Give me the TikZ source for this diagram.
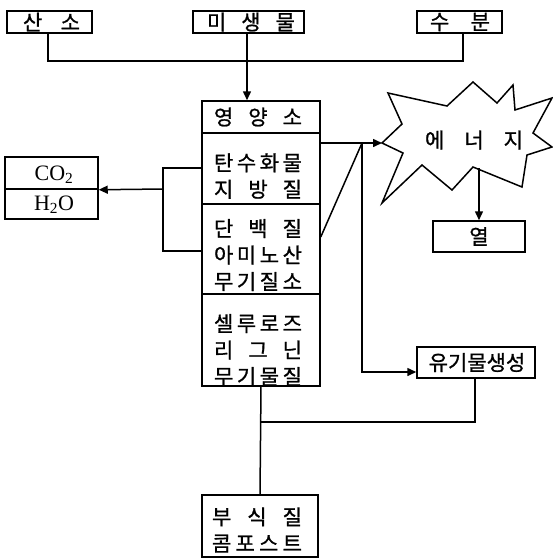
\documentclass[tikz,border=0pt]{standalone}
\usepackage{fontspec}
\newfontfamily\kr[FakeBold=1.0]{Noto Sans CJK KR}
\setmainfont{Liberation Serif}
\usetikzlibrary{arrows.meta}
\newcommand{\spr}[2]{\makebox[#1pt][s]{#2}}
\begin{document}
\begin{tikzpicture}[x=1pt,y=-1pt,line width=1.5pt,
  box/.style={draw, inner sep=0pt, line width=1.5pt},
  txt/.style={inner sep=0pt, font=\kr\fontsize{21}{26.5}\selectfont, align=center},
  chem/.style={inner sep=0pt, font=\fontsize{22}{24}\selectfont},
  arr/.style={-{Triangle[length=9pt,width=8pt]}}]
\useasboundingbox (0,0) rectangle (553,558);

% top boxes
\node[box, minimum width=85pt, minimum height=22pt] (s) at (49.5,22) {};
\node[txt] (st) at (51.5,22) {\spr{57}{산\hfill 소}};
\node[box, minimum width=111pt, minimum height=22pt] (m) at (248.5,22) {};
\node[txt] (mt) at (251,22) {\spr{88}{미\hfill 생\hfill 물}};
\node[box, minimum width=85pt, minimum height=22pt] (w) at (459.5,22) {};
\node[txt] (wt) at (460,22) {\spr{60}{수\hfill 분}};

% nutrient column
\node[box, minimum width=118pt, minimum height=32pt] (n0) at (261,117) {};
\node[box, minimum width=118pt, minimum height=71pt] (n1) at (261,168.5) {};
\node[box, minimum width=118pt, minimum height=90pt] (n2) at (261,249) {};
\node[box, minimum width=118pt, minimum height=92pt] (n3) at (261,340) {};
\node[txt] (t0) at (258,117) {\spr{88}{영\hfill 양\hfill 소}};
\node[txt] (t1) at (258,176) {\spr{88}{탄\hfill 수\hfill 화\hfill 물}\\\spr{88}{지\hfill 방\hfill 질}};
\node[txt] (t2) at (258,255) {\spr{88}{단\hfill 백\hfill 질}\\\spr{88}{아\hfill 미\hfill 노\hfill 산}\\\spr{88}{무\hfill 기\hfill 질\hfill 소}};
\node[txt] (t3) at (258,350) {\spr{88}{셀\hfill 루\hfill 로\hfill 즈}\\\spr{88}{리\hfill 그\hfill 닌}\\\spr{88}{무\hfill 기\hfill 물\hfill 질}};

% CO2 / H2O
\node[box, minimum width=93pt, minimum height=32pt] (co) at (51.5,173) {};
\node[box, minimum width=93pt, minimum height=30pt] (ho) at (51.5,204) {};
\node[chem] (cot) at (54,175) {CO\textsubscript{2}};
\node[chem] (hot) at (54,205) {H\textsubscript{2}O};

% energy starburst
\draw (382,143) -- (402,124) -- (388,93) -- (447,106) -- (473,82) -- (497,103)
  -- (513,85) -- (515,110) -- (552,98) -- (533,133) -- (552,147) -- (527,155)
  -- (522,187) -- (473,167) -- (452,190) -- (422,165) -- (382,203) -- (403,153) -- cycle;
\coordinate (et) at (382,143);
\coordinate (eb) at (479,168);
\node[txt] (en) at (474,140) {\spr{98}{에\hfill 너\hfill 지}};

% heat, organic, compost
\node[box, minimum width=92pt, minimum height=31pt] (heat) at (479,236.5) {};
\node[txt] (heatt) at (479,236.5) {열};
\node[box, minimum width=118pt, minimum height=31pt] (org) at (476,362.5) {};
\node[txt] (orgt) at (477,362.5) {유기물생성};
\node[box, minimum width=116pt, minimum height=62pt] (comp) at (260,526) {};
\node[txt] (compt) at (257,530) {\spr{90}{부\hfill 식\hfill 질}\\\spr{90}{콤\hfill 포\hfill 스\hfill 트}};

% connectors
\coordinate (bar) at (0,61);
\draw (s.south -| 48,0) |- (bar -| 463,0) -- (w.south -| 463,0);
\draw[arr] (m.south -| 247,0) -- (n0.north -| 247,0);

\coordinate (bk) at (163,189);
\draw (n1.west |- 0,168) -| (bk) |- (n2.west |- 0,251);
\draw[arr] (bk) -- (co.south east);

\coordinate (j) at (362,143);
\draw[arr] (n1.east |- 0,143) -- (et);
\draw (n2.east |- 0,237) -- (j);
\draw[arr] (j) |- (org.west |- 0,372);
\draw[arr] (eb) -- (heat.north -| eb);

\draw (n3.south) -- (comp.north);
\draw (org.south -| 475,0) |- (n3.south |- 0,422);
\end{tikzpicture}
\end{document}
